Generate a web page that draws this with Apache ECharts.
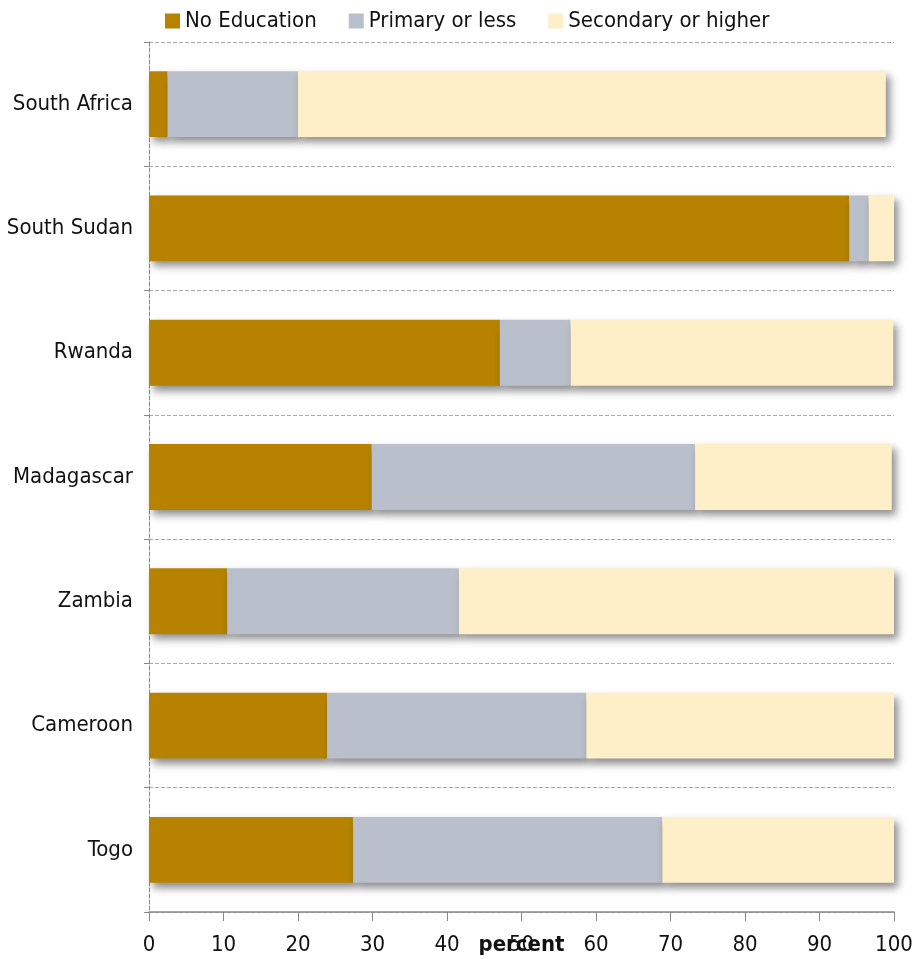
<!DOCTYPE html>
<html>
<head>
<meta charset="utf-8">
<script src="https://cdn.jsdelivr.net/npm/echarts@6/dist/echarts.min.js"></script>
<style>
  html, body { margin: 0; padding: 0; background: #fff; }
  #main { width: 915px; height: 959px; }
</style>
</head>
<body>
<div id="main"></div>
<script>
const countries = ['South Africa', 'South Sudan', 'Rwanda', 'Madagascar', 'Zambia', 'Cameroon', 'Togo'];
const noEducation = [2.5, 94.0, 47.1, 29.9, 10.5, 23.9, 27.4];
const primaryOrLess = [17.5, 2.6, 9.5, 43.4, 31.1, 34.8, 41.5];
const secondaryOrHigher = [78.9, 3.4, 43.3, 26.4, 58.4, 41.3, 31.1];
const xTicks = [0, 10, 20, 30, 40, 50, 60, 70, 80, 90, 100];

const font = "'Liberation Sans Narrow', 'DejaVu Sans Condensed', 'Arial Narrow', sans-serif";

const myChart = echarts.init(document.getElementById('main'));

// same shadow on every segment
const barShadow = {
  shadowColor: 'rgba(0, 0, 0, 0.45)',
  shadowBlur: 8,
  shadowOffsetX: 4,
  shadowOffsetY: 5
};

function makeSeries(name, data, color) {
  return {
    name: name,
    type: 'bar',
    stack: 'total',
    barWidth: '53%',
    itemStyle: Object.assign({ color: color }, barShadow),
    data: data
  };
}

const option = {
  animation: false,
  textStyle: { fontFamily: font },
  legend: {
    top: 5,
    left: 160,
    itemWidth: 15,
    itemHeight: 15,
    itemGap: 32,
    icon: 'rect',
    textStyle: { fontFamily: font, fontSize: 22, color: '#111' },
    data: ['No Education', 'Primary or less', 'Secondary or higher']
  },
  grid: { left: 149, right: 21, top: 42, bottom: 47, outerBoundsMode: 'none', containLabel: false },
  xAxis: {
    type: 'value',
    min: xTicks[0],
    max: xTicks[xTicks.length - 1],
    interval: 10,
    name: 'percent',
    nameLocation: 'middle',
    nameGap: 22,
    nameMoveOverlap: false,
    nameTextStyle: { fontFamily: font, fontSize: 22, fontWeight: 'bold', color: '#111', verticalAlign: 'top' },
    axisLine: { show: true, lineStyle: { color: '#888', width: 1.5 } },
    axisTick: { show: true, length: 9, lineStyle: { color: '#888' } },
    axisLabel: { fontFamily: font, fontSize: 22, color: '#111', margin: 22 },
    splitLine: { show: false }
  },
  yAxis: {
    type: 'category',
    inverse: true,
    data: countries,
    axisLine: { show: true, lineStyle: { color: '#888', type: 'dashed' } },
    axisTick: { show: true, length: 5, lineStyle: { color: '#888' } },
    axisLabel: { fontFamily: font, fontSize: 22, color: '#111', margin: 16 },
    splitLine: { show: true, lineStyle: { color: '#aaa', type: 'dashed' } }
  },
  series: [
    makeSeries('No Education', noEducation, '#b68200'),
    makeSeries('Primary or less', primaryOrLess, '#b9c0cb'),
    makeSeries('Secondary or higher', secondaryOrHigher, '#feefc9')
  ]
};

myChart.setOption(option);
window.addEventListener('resize', function () {
  myChart.resize();
});
</script>
</body>
</html>
